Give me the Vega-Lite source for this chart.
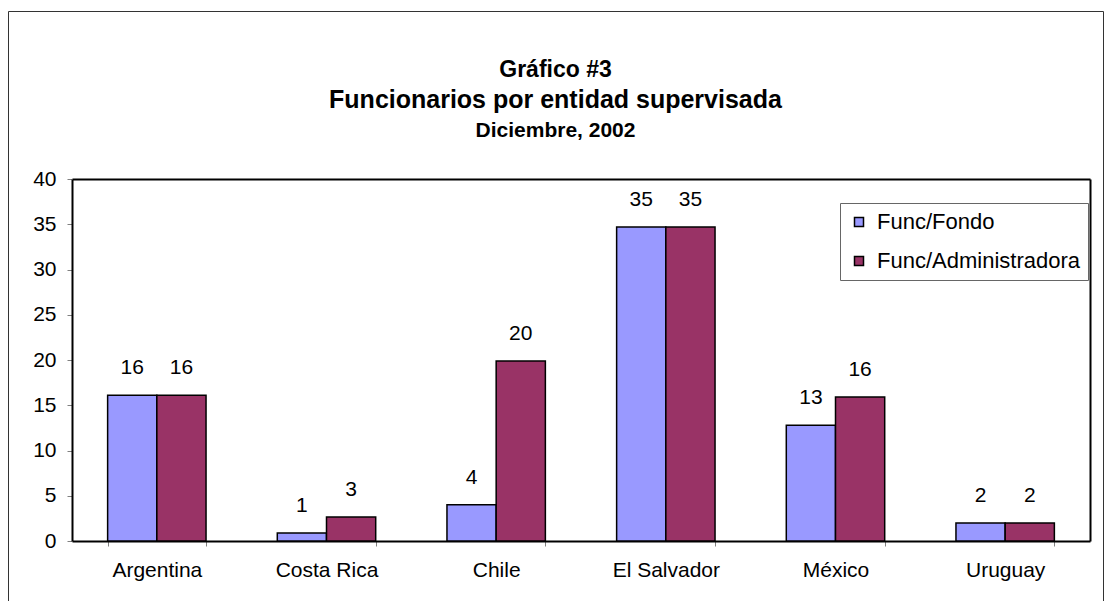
{
  "$schema": "https://vega.github.io/schema/vega-lite/v6.json",
  "autosize": {"type": "none"},
  "width": 1095,
  "height": 600,
  "padding": {"left": 8, "top": 11, "right": 6, "bottom": 0},
  "background": "white",
  "title": {
    "text": "Funcionarios por entidad supervisada",
    "subtitle": "Diciembre, 2002",
    "anchor": "middle",
    "frame": "group",
    "dx": 0,
    "offset": -130,
    "fontSize": 25,
    "fontWeight": "bold",
    "color": "black",
    "font": "Liberation Sans",
    "subtitleFont": "Liberation Sans",
    "subtitleFontSize": 21,
    "subtitleFontWeight": "bold",
    "subtitleColor": "black",
    "subtitlePadding": 7
  },
  "config": {
    "font": "Liberation Sans",
    "view": {"stroke": "#333333", "strokeWidth": 1},
    "axis": {"grid": false}
  },
  "data": {
    "values": [
      {"pais": "Argentina", "serie": "Func/Fondo", "valor": 16.1},
      {"pais": "Argentina", "serie": "Func/Administradora", "valor": 16.1},
      {"pais": "Costa Rica", "serie": "Func/Fondo", "valor": 0.88},
      {"pais": "Costa Rica", "serie": "Func/Administradora", "valor": 2.65},
      {"pais": "Chile", "serie": "Func/Fondo", "valor": 4.0},
      {"pais": "Chile", "serie": "Func/Administradora", "valor": 19.9},
      {"pais": "El Salvador", "serie": "Func/Fondo", "valor": 34.7},
      {"pais": "El Salvador", "serie": "Func/Administradora", "valor": 34.7},
      {"pais": "México", "serie": "Func/Fondo", "valor": 12.8},
      {"pais": "México", "serie": "Func/Administradora", "valor": 15.9},
      {"pais": "Uruguay", "serie": "Func/Fondo", "valor": 2.0},
      {"pais": "Uruguay", "serie": "Func/Administradora", "valor": 2.0}
    ]
  },
  "layer": [
    {
      "mark": {"type": "bar", "stroke": "black", "strokeWidth": 1.5},
      "encoding": {
        "x": {
          "field": "pais",
          "type": "nominal",
          "sort": ["Argentina", "Costa Rica", "Chile", "El Salvador", "México", "Uruguay"],
          "scale": {"range": [64, 1082], "paddingInner": 0.42, "paddingOuter": 0.21},
          "axis": {
            "orient": "bottom",
            "offset": -70,
            "title": null,
            "labelAngle": 0,
            "labelFontSize": 21,
            "labelColor": "black",
            "labelPadding": 13,
            "tickColor": "#808080",
            "tickSize": 5,
            "tickWidth": 1,
            "tickBand": "extent",
            "domainColor": "black",
            "domainWidth": 2
          }
        },
        "xOffset": {
          "field": "serie",
          "type": "nominal",
          "scale": {"domain": ["Func/Fondo", "Func/Administradora"], "paddingInner": 0, "paddingOuter": 0}
        },
        "y": {
          "field": "valor",
          "type": "quantitative",
          "scale": {"domain": [0, 40], "range": [530, 168], "nice": false},
          "axis": {
            "orient": "left",
            "offset": -64,
            "values": [0, 5, 10, 15, 20, 25, 30, 35, 40],
            "title": null,
            "labelFontSize": 21,
            "labelColor": "black",
            "labelPadding": 11,
            "tickColor": "#808080",
            "tickSize": 5,
            "tickWidth": 1,
            "domainColor": "black",
            "domainWidth": 2
          }
        },
        "color": {
          "field": "serie",
          "type": "nominal",
          "scale": {"domain": ["Func/Fondo", "Func/Administradora"], "range": ["#9999FF", "#993366"]},
          "legend": {
            "orient": "none",
            "legendX": 832,
            "legendY": 192,
            "title": null,
            "padding": 8,
            "rowPadding": 17,
            "symbolType": "square",
            "symbolSize": 81,
            "symbolStrokeColor": "black",
            "symbolStrokeWidth": 1.5,
            "labelFontSize": 22,
            "labelColor": "black",
            "labelOffset": 7,
            "labelLimit": 0,
            "strokeColor": "#666666",
            "fillColor": "white"
          }
        }
      }
    },
    {
      "mark": {"type": "text", "baseline": "middle", "dy": -27, "fontSize": 21, "color": "black"},
      "encoding": {
        "x": {
          "field": "pais",
          "type": "nominal",
          "sort": ["Argentina", "Costa Rica", "Chile", "El Salvador", "México", "Uruguay"],
          "axis": {
            "orient": "top",
            "offset": -168,
            "labels": false,
            "ticks": false,
            "domainColor": "black",
            "domainWidth": 2,
            "title": "Gráfico #3",
            "titleFont": "Liberation Sans",
            "titleFontSize": 23,
            "titleFontWeight": "bold",
            "titleColor": "black",
            "titleX": 547,
            "titleY": -110,
            "titleBaseline": "middle",
            "titleAlign": "center"
          }
        },
        "xOffset": {"field": "serie", "type": "nominal"},
        "y": {
          "field": "valor",
          "type": "quantitative",
          "axis": {
            "orient": "right",
            "offset": -13,
            "labels": false,
            "ticks": false,
            "title": null,
            "domainColor": "black",
            "domainWidth": 2
          }
        },
        "text": {"field": "valor", "type": "quantitative", "format": ".0f"}
      }
    }
  ],
  "resolve": {"axis": {"x": "independent", "y": "independent"}}
}
